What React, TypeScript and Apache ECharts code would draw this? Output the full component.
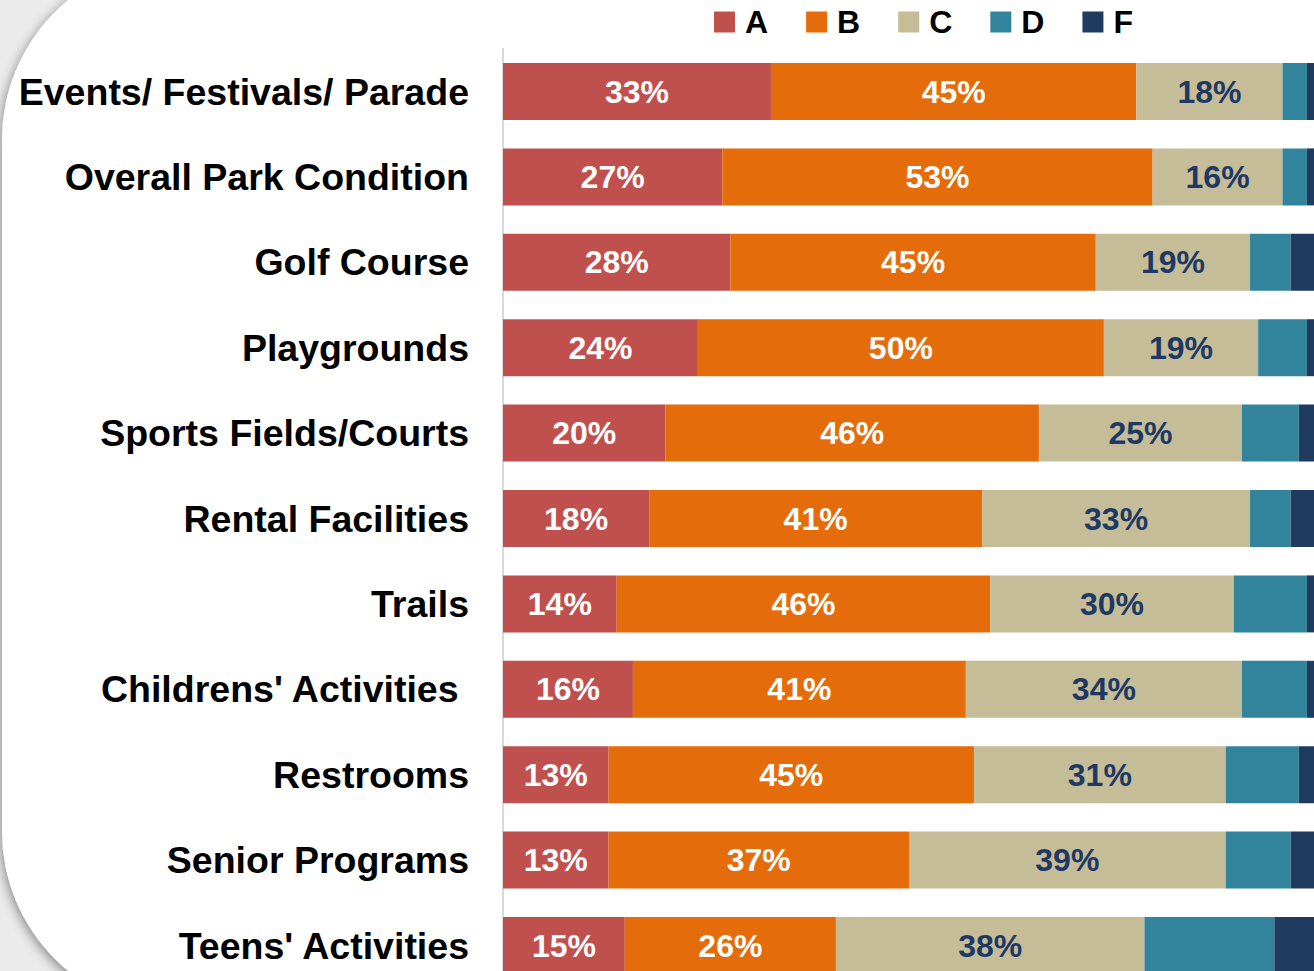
import React, { useEffect, useRef } from "react";
import * as echarts from "echarts";

const categories = [
  "Events/ Festivals/ Parade",
  "Overall Park Condition",
  "Golf Course",
  "Playgrounds",
  "Sports Fields/Courts",
  "Rental Facilities",
  "Trails",
  "Childrens' Activities ",
  "Restrooms",
  "Senior Programs",
  "Teens' Activities",
];

const gradeA = [33, 27, 28, 24, 20, 18, 14, 16, 13, 13, 15];
const gradeB = [45, 53, 45, 50, 46, 41, 46, 41, 45, 37, 26];
const gradeC = [18, 16, 19, 19, 25, 33, 30, 34, 31, 39, 38];
const gradeD = [3, 3, 5, 6, 7, 5, 9, 8, 9, 8, 16];
const gradeF = [1, 1, 3, 1, 2, 3, 2, 1, 2, 3, 5];

const seriesNames = ["A", "B", "C", "D", "F"];
const seriesColors = ["#c0504d", "#e46c0a", "#c4bd97", "#31849b", "#1f3b60"];
const labelColors = ["#ffffff", "#ffffff", "#1f3864", null, null];

export default function App() {
  const ref = useRef<HTMLDivElement>(null);

  useEffect(() => {
    if (!ref.current) return;
    const chart = echarts.init(ref.current, undefined, { renderer: "svg" });
    const values = [gradeA, gradeB, gradeC, gradeD, gradeF];
    const font = "'Liberation Sans', Arial, sans-serif";

    chart.setOption({
      animation: false,
      backgroundColor: "#ebebeb",
      graphic: [
        {
          type: "rect",
          z: -10,
          silent: true,
          shape: { x: 2, y: -41, width: 1420, height: 1053, r: 181 },
          style: {
            fill: "#ffffff",
            shadowBlur: 12,
            shadowColor: "rgba(0,0,0,0.45)",
            shadowOffsetX: -1,
            shadowOffsetY: 3,
          },
        },
      ],
      legend: {
        data: seriesNames,
        left: 714,
        top: 6,
        padding: 0,
        icon: "rect",
        itemWidth: 21,
        itemHeight: 21,
        itemGap: 38,
        textStyle: {
          fontSize: 32,
          fontWeight: "bold",
          color: "#000",
          fontFamily: font,
          padding: [0, 0, 0, 5],
        },
      },
      grid: {
        left: 503,
        top: 48.8,
        width: 812,
        height: 939.4,
        containLabel: false,
      },
      xAxis: {
        type: "value",
        min: 0,
        max: 100,
        show: false,
      },
      yAxis: {
        type: "category",
        data: categories,
        inverse: true,
        axisLine: { show: true, lineStyle: { color: "#d9d9d9", width: 2 } },
        axisTick: { show: false },
        axisLabel: {
          margin: 34,
          fontSize: 37.5,
          fontWeight: "bold",
          color: "#000",
          fontFamily: font,
        },
      },
      series: seriesNames.map((name, i) => ({
        name,
        type: "bar",
        stack: "total",
        barWidth: 57,
        data: values[i],
        itemStyle: { color: seriesColors[i] },
        label: labelColors[i]
          ? {
              show: true,
              position: "inside",
              formatter: "{c}%",
              fontSize: 32,
              fontWeight: "bold",
              color: labelColors[i],
              fontFamily: font,
            }
          : { show: false },
      })),
    });

    return () => chart.dispose();
  }, []);

  return (
    <div
      style={{
        position: "fixed",
        left: 0,
        top: 0,
        width: 1314,
        height: 971,
        overflow: "hidden",
      }}
    >
      <div ref={ref} style={{ width: 1340, height: 1000 }} />
    </div>
  );
}
